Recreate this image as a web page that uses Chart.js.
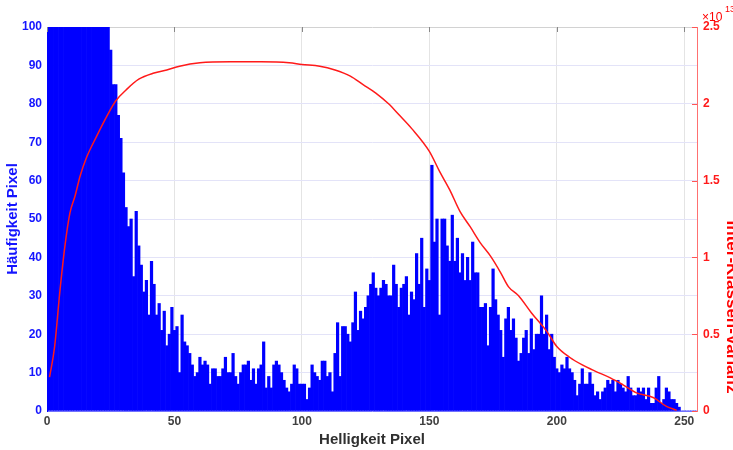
<!DOCTYPE html>
<html>
<head>
<meta charset="utf-8">
<script src="https://cdn.jsdelivr.net/npm/chart.js@4/dist/chart.umd.min.js"></script>
<style>
  body { margin: 0; background: #fff; }
  #wrap { width: 733px; height: 450px; }
</style>
</head>
<body>
<div id="wrap"><canvas id="histo-canvas" width="733" height="450"></canvas></div>
<script>
const FONT = '"Liberation Sans", Arial, Helvetica, sans-serif';

// pixel count per brightness value 0..255 (values over 100 are clipped in the plot)
const counts = [
    160, 240, 310, 380, 420, 450, 470, 460, 440, 410, 380, 350, 320, 290, 260, 240,
    220, 200, 180, 165, 150, 135, 120, 110, 104, 94, 85, 85, 77, 71, 62, 53,
    48, 50, 35, 52, 43, 38, 31, 34, 25, 39, 33, 25, 28, 21, 26, 17,
    20, 27, 21, 22, 10, 25, 18, 17, 15, 12, 9, 10, 14, 12, 13, 12,
    7, 11, 11, 9, 9, 11, 14, 10, 10, 15, 9, 7, 10, 12, 12, 13,
    8, 11, 7, 11, 12, 18, 6, 9, 6, 12, 13, 12, 10, 8, 6, 5,
    7, 12, 11, 7, 7, 7, 3, 6, 12, 10, 9, 8, 13, 13, 9, 10,
    5, 15, 23, 9, 22, 22, 20, 18, 23, 31, 21, 26, 24, 27, 30, 33,
    36, 32, 30, 32, 34, 33, 30, 30, 38, 33, 27, 32, 33, 35, 25, 31,
    29, 41, 33, 45, 27, 37, 34, 64, 44, 50, 25, 50, 50, 43, 39, 51,
    39, 45, 36, 41, 34, 40, 34, 44, 36, 36, 27, 27, 28, 17, 27, 37,
    29, 25, 21, 14, 24, 27, 21, 24, 19, 13, 15, 19, 21, 15, 24, 16,
    20, 20, 30, 20, 25, 16, 20, 14, 11, 10, 12, 11, 14, 11, 10, 8,
    4, 7, 11, 7, 7, 10, 7, 4, 5, 3, 5, 6, 8, 7, 8, 5,
    8, 7, 6, 5, 9, 6, 4, 4, 6, 5, 6, 3, 6, 2, 2, 6,
    9, 2, 3, 6, 5, 3, 3, 2, 1, 0, 0, 0, 0, 0, 0, 0
];

// inter-class variance (x 1e13), read at these thresholds
const varX = [1, 3, 5, 7, 9, 11, 13, 15.5, 19.5, 23.5, 27, 31, 36, 42, 47, 52, 60, 72, 84, 95,
    100, 107, 113, 119, 124, 129, 134, 138, 143, 150, 154, 158, 162, 166, 170, 174, 178, 181,
    185, 190, 196, 200, 205, 210, 215, 221, 226, 231, 238, 243, 247];
const varY = [0.22, 0.42, 0.77, 1.07, 1.29, 1.40, 1.53, 1.65, 1.79, 1.92, 2.02, 2.09, 2.16, 2.20, 2.22, 2.245, 2.267, 2.273, 2.273, 2.267,
    2.256, 2.245, 2.22, 2.18, 2.125, 2.07, 2.0, 1.93, 1.84, 1.69, 1.56, 1.44, 1.30, 1.20, 1.095, 1.008, 0.90, 0.81,
    0.75, 0.64, 0.52, 0.42, 0.35, 0.30, 0.26, 0.216, 0.17, 0.12, 0.086, 0.03, 0.005];

const xTicks = [0, 50, 100, 150, 200, 250];
const yTicks = [0, 10, 20, 30, 40, 50, 60, 70, 80, 90, 100];
const y1Ticks = [0, 0.5, 1, 1.5, 2, 2.5];

const setTicks = arr => scale => { scale.ticks = arr.map(v => ({value: v})); };

// inner tick marks, right axis label and exponent (MATLAB style)
const extrasPlugin = {
    id: 'extras',
    afterDraw(chart) {
        const {ctx, chartArea: a, scales} = chart;
        ctx.save();
        ctx.lineWidth = 1;
        ctx.strokeStyle = '#ff5555';
        ctx.beginPath();
        y1Ticks.forEach(v => {
            const py = Math.round(scales.y1.getPixelForValue(v)) + 0.5;
            ctx.moveTo(a.right, py);
            ctx.lineTo(a.right - 5, py);
        });
        ctx.stroke();
        ctx.strokeStyle = '#888';
        ctx.beginPath();
        xTicks.forEach(v => {
            const px = Math.round(scales.x.getPixelForValue(v)) + 0.5;
            ctx.moveTo(px, a.top);
            ctx.lineTo(px, a.top + 5);
        });
        ctx.stroke();

        ctx.fillStyle = '#ff0000';
        ctx.font = 'bold 17px ' + FONT;
        ctx.textAlign = 'center';
        ctx.textBaseline = 'middle';
        ctx.translate(732, 307);
        ctx.rotate(Math.PI / 2);
        ctx.fillText('Inter-Klassen-Varianz', 0, 0);
        ctx.restore();

        ctx.save();
        ctx.fillStyle = '#ff0000';
        ctx.textAlign = 'left';
        ctx.textBaseline = 'alphabetic';
        ctx.font = '12px ' + FONT;
        ctx.fillText('\u00d710', 702, 21);
        ctx.font = '9px ' + FONT;
        ctx.fillText('13', 725, 12);
        ctx.restore();
    }
};

new Chart(document.getElementById('histo-canvas').getContext('2d'), {
    type: 'bar',
    data: {
        datasets: [{
            type: 'line',
            label: 'Inter-Klassen-Varianz',
            data: varX.map((x, i) => ({x: x, y: varY[i]})),
            yAxisID: 'y1',
            borderColor: '#ff1a1a',
            borderWidth: 1.5,
            pointRadius: 0,
            cubicInterpolationMode: 'monotone',
            fill: false,
            order: 0
        }, {
            label: 'Häufigkeit',
            data: counts.map((c, i) => ({x: i, y: c})),
            yAxisID: 'y',
            backgroundColor: '#0000ff',
            borderWidth: 0,
            barPercentage: 1,
            categoryPercentage: 1,
            order: 1
        }]
    },
    options: {
        responsive: false,
        animation: false,
        devicePixelRatio: 1,
        layout: {padding: {top: 27, left: 0, right: 0, bottom: 0}},
        plugins: {legend: {display: false}, tooltip: {enabled: false}},
        scales: {
            x: {
                type: 'linear',
                min: 0,
                max: 255,
                offset: false,
                afterBuildTicks: setTicks(xTicks),
                afterFit: s => { s.height = 39; },
                grid: {color: '#e4e4e4', drawTicks: false, offset: false},
                border: {color: '#7070ff'},
                ticks: {color: '#404040', padding: 3, font: {size: 12, weight: 'bold', family: FONT}},
                title: {display: true, text: 'Helligkeit Pixel', color: '#303030',
                    padding: {top: 0, bottom: 1}, font: {size: 15, weight: 'bold', family: FONT}}
            },
            y: {
                position: 'left',
                min: 0,
                max: 100,
                afterBuildTicks: setTicks(yTicks),
                afterFit: s => { s.width = 47; },
                grid: {color: c => c.tick && c.tick.value === 100 ? '#d2d2d2' : '#e3e3f8', drawTicks: false},
                border: {color: '#0000ff'},
                ticks: {color: '#1515ff', padding: 5, font: {size: 12, weight: 'bold', family: FONT}},
                title: {display: true, text: 'Häufigkeit Pixel', color: '#1515ff',
                    padding: {top: 4, bottom: 0}, font: {size: 15, weight: 'bold', family: FONT}}
            },
            y1: {
                position: 'right',
                min: 0,
                max: 2.5,
                afterBuildTicks: setTicks(y1Ticks),
                afterFit: s => { s.width = 36; },
                grid: {display: false, drawTicks: false},
                border: {color: '#ff7070'},
                ticks: {color: '#ff1a1a', padding: 6, font: {size: 12, weight: 'bold', family: FONT},
                    callback: v => String(+v.toFixed(1))}
            }
        }
    },
    plugins: [extrasPlugin]
});
</script>
</body>
</html>
